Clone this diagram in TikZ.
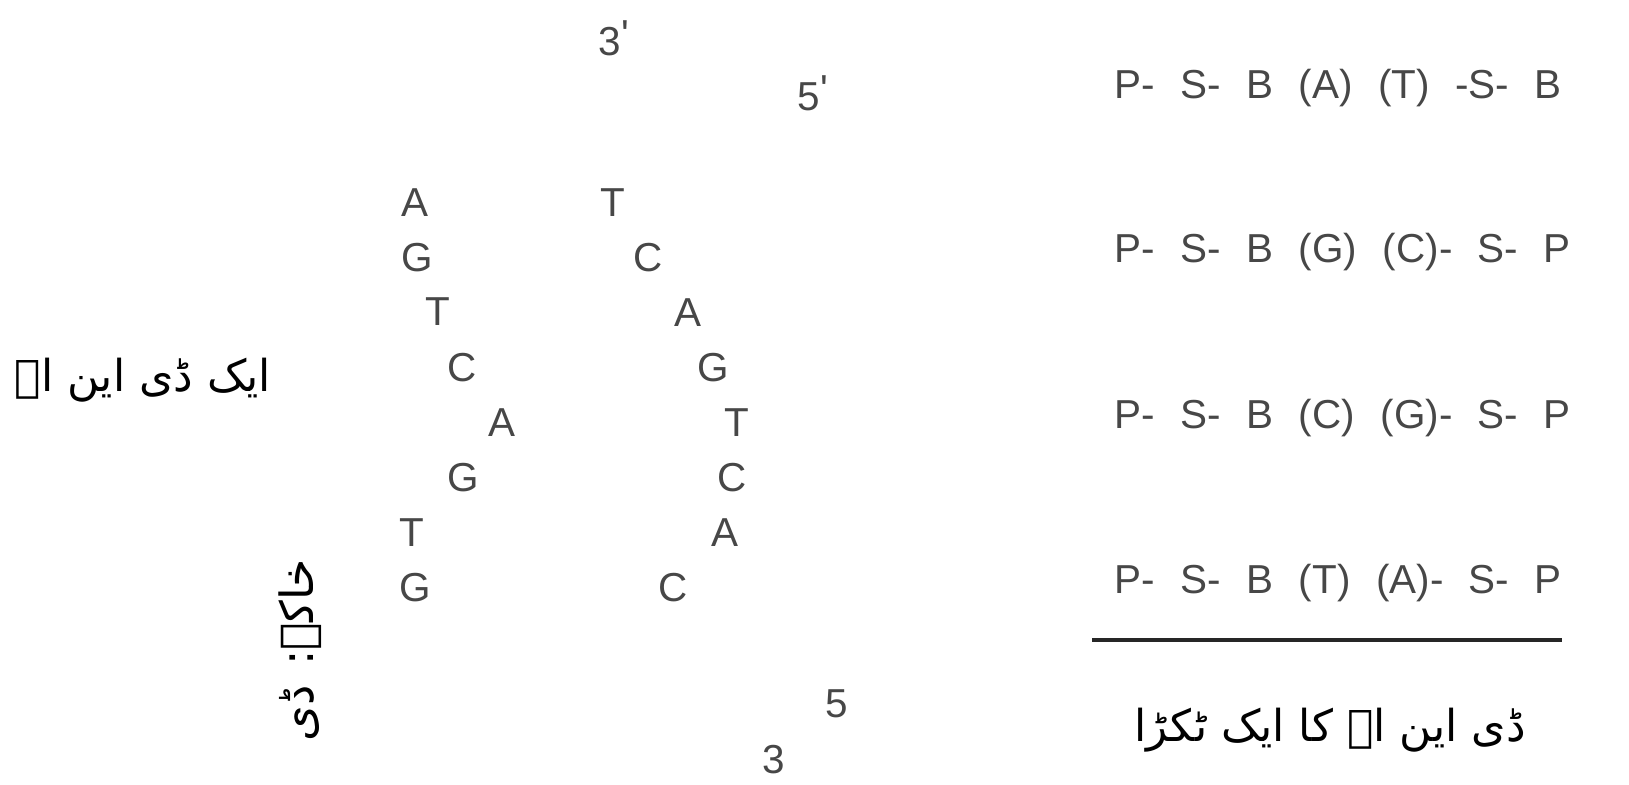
\documentclass[tikz,border=0pt]{standalone}
\usepackage{fontspec}
\setmainfont{Liberation Sans}
\newfontfamily\urdufont[Script=Arabic]{DejaVu Sans}
\TeXXeTstate=1
\usepackage{tikz}
\usetikzlibrary{positioning}
\tikzset{
  %% nucleotide letter of a strand
  nbase/.style={font=\fontsize{11.5}{13}\selectfont, text=black!72,
    inner sep=0pt},
  %% 3'/5' end label
  send/.style={font=\fontsize{11.5}{13}\selectfont, text=black!72,
    inner sep=0pt, anchor=base west},
  %% backbone row P-S-B
  brow/.style={font=\fontsize{11.5}{13}\selectfont, text=black!72,
    inner sep=0pt, anchor=base west},
  %% urdu caption
  ucap/.style={font=\urdufont\fontsize{#1}{#1}\selectfont, text=black,
    inner sep=0pt},
  ucap/.default=12,
  %% rule under the rows
  rulel/.style={draw=black!85, line width=0.9pt},
}
\newcommand{\primetick}{\raisebox{0.3ex}{\textquotesingle}}
\newcommand{\sepgap}{\hspace{0.63em}}

\begin{document}
\begin{tikzpicture}[x=0.01cm, y=-0.01cm]
  \useasboundingbox (0,0) rectangle (1629,784);

  %% strand ends
  \node[send] (top3) at (598,55) {3\primetick};
  \node[send] (top5) at (797,110) {5\primetick};
  \node[send] (bot5) at (825,717) {5};
  \node[send] (bot3) at (762,773) {3};

  %% left strand
  \foreach \x/\y/\b [count=\i] in {415/203/A, 417/258/G, 438/312/T,
      462/368/C, 502/423/A, 463/478/G, 412/533/T, 415/588/G}
    \node[nbase] (l\i) at (\x,\y) {\b};

  %% right strand
  \foreach \x/\y/\b [count=\i] in {613/203/T, 648/258/C, 688/313/A,
      713/368/G, 737/423/T, 732/478/C, 725/533/A, 673/588/C}
    \node[nbase] (r\i) at (\x,\y) {\b};

  %% captions
  \node[ucap=12.5] (dna) at (143,380) {\urdufont\beginR ایک ڈی این اے\endR};
  \node[ucap=13, rotate=90, anchor=east] (fig) at (300,558)
    {\urdufont\beginR خاکہ: ڈی\endR};

  %% backbone rows
  \node[brow] (row1) at (1114,98)
    {P-\sepgap S-\sepgap B\sepgap (A)\sepgap (T)\sepgap -S-\sepgap B};
  \node[brow] (row2) at (1114,262)
    {P-\sepgap S-\sepgap B\sepgap (G)\sepgap (C)-\sepgap S-\sepgap P};
  \node[brow] (row3) at (1114,428)
    {P-\sepgap S-\sepgap B\sepgap (C)\sepgap (G)-\sepgap S-\sepgap P};
  \node[brow] (row4) at (1114,593)
    {P-\sepgap S-\sepgap B\sepgap (T)\sepgap (A)-\sepgap S-\sepgap P};

  \coordinate (ruleA) at (1092,640);
  \coordinate (ruleB) at (1562,640);
  \draw[rulel] (ruleA) -- (ruleB);

  \node[ucap=12.5] (piece) at (1330,730)
    {\urdufont\beginR ڈی این اے کا ایک ٹکڑا\endR};
\end{tikzpicture}
\end{document}
